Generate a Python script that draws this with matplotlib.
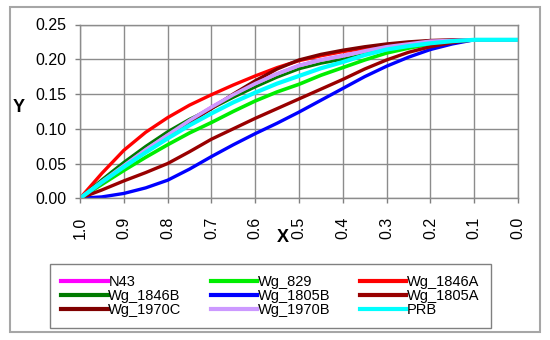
import matplotlib
matplotlib.use("Agg")
import matplotlib.pyplot as plt
from matplotlib.patches import Rectangle

plt.rcParams["font.family"] = ["Liberation Sans", "DejaVu Sans"]

# ---- data (x runs 1.0 -> 0.0, step 0.05) ----
X = [1.0, 0.95, 0.9, 0.85, 0.8, 0.75, 0.7, 0.65, 0.6, 0.55, 0.5,
     0.45, 0.4, 0.35, 0.3, 0.25, 0.2, 0.15, 0.1, 0.05, 0.0]
N43      = [0, 0.024, 0.047, 0.070, 0.091, 0.112, 0.131, 0.149, 0.165, 0.179, 0.191,
            0.199, 0.205, 0.212, 0.218, 0.222, 0.226, 0.227, 0.228, 0.228, 0.228]
Wg_829   = [0, 0.020, 0.040, 0.059, 0.077, 0.094, 0.109, 0.125, 0.140, 0.153, 0.164,
            0.177, 0.188, 0.199, 0.209, 0.216, 0.222, 0.226, 0.228, 0.228, 0.228]
Wg_1846A = [0, 0.036, 0.069, 0.095, 0.116, 0.134, 0.149, 0.163, 0.176, 0.188, 0.198,
            0.205, 0.211, 0.216, 0.220, 0.223, 0.226, 0.227, 0.228, 0.228, 0.228]
Wg_1846B = [0, 0.027, 0.052, 0.075, 0.096, 0.114, 0.129, 0.145, 0.160, 0.174, 0.186,
            0.194, 0.200, 0.207, 0.214, 0.220, 0.224, 0.227, 0.228, 0.228, 0.228]
Wg_1805B = [0, 0.002, 0.007, 0.015, 0.026, 0.042, 0.060, 0.077, 0.093, 0.108, 0.124,
            0.141, 0.158, 0.175, 0.190, 0.203, 0.214, 0.222, 0.228, 0.228, 0.228]
Wg_1805A = [0, 0.012, 0.025, 0.037, 0.050, 0.067, 0.085, 0.100, 0.115, 0.129, 0.143,
            0.157, 0.171, 0.186, 0.199, 0.210, 0.218, 0.224, 0.228, 0.228, 0.228]
Wg_1970C = [0, 0.022, 0.045, 0.067, 0.088, 0.109, 0.129, 0.150, 0.169, 0.186, 0.199,
            0.207, 0.213, 0.218, 0.222, 0.225, 0.227, 0.228, 0.228, 0.228, 0.228]
Wg_1970B = [0, 0.024, 0.047, 0.070, 0.091, 0.112, 0.131, 0.149, 0.165, 0.179, 0.191,
            0.199, 0.205, 0.212, 0.218, 0.222, 0.226, 0.227, 0.228, 0.228, 0.228]
PRB      = [0, 0.023, 0.045, 0.066, 0.086, 0.105, 0.122, 0.138, 0.152, 0.165, 0.176,
            0.187, 0.196, 0.206, 0.214, 0.219, 0.223, 0.226, 0.228, 0.228, 0.228]

NAMES = ["N43", "Wg_829", "Wg_1846A", "Wg_1846B", "Wg_1805B",
         "Wg_1805A", "Wg_1970C", "Wg_1970B", "PRB"]
SERIES = [N43, Wg_829, Wg_1846A, Wg_1846B, Wg_1805B, Wg_1805A, Wg_1970C, Wg_1970B, PRB]
COLORS = ["#FF00FF", "#00EE00", "#FF0000", "#007A00", "#0000FF",
          "#990000", "#800000", "#CC99FF", "#00FFFF"]
WIDTHS = [2.4, 2.6, 2.4, 2.0, 2.4, 2.4, 2.4, 2.6, 3.0]

fig = plt.figure(figsize=(5.5, 3.4), dpi=100)
ax = fig.add_axes([80/550, 1-198.3/340, 438/550, 173.8/340])

lines = {}
for name, ys, c, w in zip(NAMES, SERIES, COLORS, WIDTHS):
    lines[name], = ax.plot(X, ys, color=c, lw=w, label=name, solid_joinstyle="round")

ax.set_xlim(1.0, 0.0)
ax.set_ylim(0, 0.25)
ax.set_xticks([i/10 for i in range(11)])
ax.set_xticklabels([f"{i/10:.1f}" for i in range(11)], rotation=90)
ax.set_yticks([0, 0.05, 0.10, 0.15, 0.20, 0.25])
ax.set_yticklabels(["0.00", "0.05", "0.10", "0.15", "0.20", "0.25"])
ax.tick_params(labelsize=11.5, length=3.5, width=1, color="#808080")
ax.tick_params(axis="x", pad=10)
ax.tick_params(axis="y", pad=6)
ax.grid(True, color="#8C8C8C", lw=1)
ax.set_axisbelow(True)
for s in ax.spines.values():
    s.set_color("#8C8C8C")
    s.set_linewidth(1)

fig.text(19/550, 1-107/340, "Y", fontsize=13, fontweight="bold", ha="center", va="center")
fig.text(283/550, 1-238/340, "X", fontsize=13, fontweight="bold", ha="center", va="center")

# legend filled row by row like the reference
order = ["N43", "Wg_1846B", "Wg_1970C", "Wg_829", "Wg_1805B", "Wg_1970B",
         "Wg_1846A", "Wg_1805A", "PRB"]
leg = fig.legend([lines[n] for n in order], order, ncol=3, loc="upper left",
                 bbox_to_anchor=(50/550, 1-264/340),
                 borderaxespad=0, fontsize=10.5, handlelength=3.2, handletextpad=0.05,
                 labelspacing=0.0, columnspacing=2.0, fancybox=False, framealpha=1,
                 edgecolor="#808080", borderpad=0.75)
leg.get_frame().set_linewidth(1)
for h in leg.get_lines():
    h.set_linewidth(3)

fig.patches.append(Rectangle((10/550, 1-332/340), 530/550, 325/340, transform=fig.transFigure,
                             fill=False, edgecolor="#A6A6A6", lw=1.5))

fig.savefig("out.png", dpi=100)
